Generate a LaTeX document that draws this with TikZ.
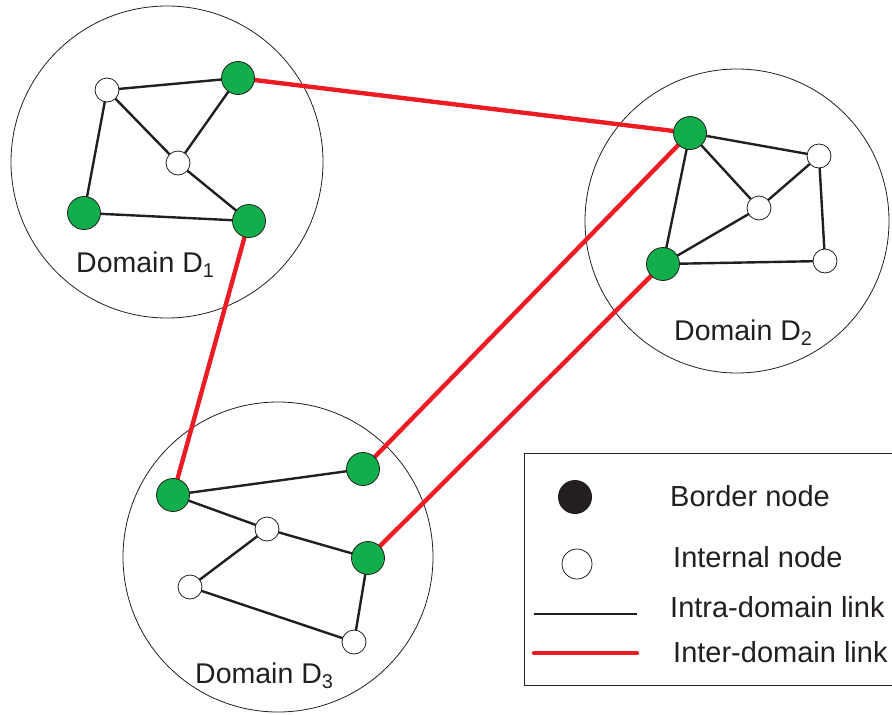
\documentclass[tikz,border=0pt]{standalone}
\usepackage{fontspec}
\setmainfont{Liberation Sans}
\definecolor{bgreen}{RGB}{18,174,75}
\definecolor{lred}{RGB}{237,28,36}
\definecolor{txt}{RGB}{35,31,32}
\begin{document}
\begin{tikzpicture}[x=1pt,y=-1pt,
  domcircle/.style={draw=txt,line width=0.8pt},
  border/.style={circle,draw=txt,line width=0.8pt,fill=bgreen,minimum size=33pt,inner sep=0pt},
  internal/.style={circle,draw=txt,line width=0.8pt,fill=white,minimum size=24pt,inner sep=0pt},
  intra/.style={draw=txt,line width=2.4pt},
  inter/.style={draw=lred,line width=4.4pt},
  lbl/.style={anchor=base west,text=txt,font=\fontsize{28.5}{32}\selectfont,inner sep=0pt},
  leg/.style={anchor=base west,text=txt,font=\fontsize{29}{34}\selectfont,inner sep=0pt}]
\useasboundingbox (0,0) rectangle (892,715);
\clip (0,0) rectangle (892,715);
% domains
\draw[domcircle] (167,162) circle[radius=156];
\draw[domcircle] (737,221) circle[radius=152];
\draw[domcircle] (278,557) circle[radius=155];
% coordinates of nodes
\coordinate (g1) at (238,78);
\coordinate (w1) at (107,90);
\coordinate (w2) at (178,163);
\coordinate (g2) at (84,213);
\coordinate (g3) at (249,221);
\coordinate (g4) at (690,133);
\coordinate (w3) at (819,156);
\coordinate (w4) at (759,208);
\coordinate (g5) at (663,264);
\coordinate (w5) at (825,261);
\coordinate (g6) at (173,495);
\coordinate (g7) at (363,469);
\coordinate (w6) at (267,529);
\coordinate (g8) at (368,558);
\coordinate (w7) at (190,587);
\coordinate (w8) at (354,642);
% intra-domain links
\draw[intra] (w1)--(g1) (w1)--(w2) (w2)--(g1) (w2)--(g3) (w1)--(g2) (g2)--(g3);
\draw[intra] (g4)--(w3) (g4)--(w4) (g4)--(g5) (w3)--(w4) (w3)--(w5) (w4)--(g5) (g5)--(w5);
\draw[intra] (g6)--(g7) (g6)--(w6) (w6)--(g8) (w6)--(w7) (w7)--(w8) (g8)--(w8);
% inter-domain links
\draw[inter] (g1)--(g4) (g3)--(g6) (g4)--(g7) (g5)--(g8);
% nodes
\foreach \n in {g1,g2,g3,g4,g5,g6,g7,g8} \node[border] (N\n) at (\n) {};
\foreach \n in {w1,w2,w3,w4,w5,w6,w7,w8} \node[internal] (N\n) at (\n) {};
% labels
\node[lbl] (l1) at (76,272) {Domain D\textsubscript{1}};
\node[lbl] (l2) at (674,340) {Domain D\textsubscript{2}};
\node[lbl] (l3) at (195,683) {Domain D\textsubscript{3}};
% legend
\draw[draw=txt,line width=0.8pt,fill=white] (524,453) rectangle (910,685);
\node[circle,fill=txt,minimum size=34pt,inner sep=0pt] (lb) at (575,497) {};
\node[circle,draw=txt,line width=0.8pt,fill=white,minimum size=30pt,inner sep=0pt] (li) at (577,564) {};
\coordinate (la1) at (534,614); \coordinate (la2) at (637,614);
\coordinate (le1) at (534,653); \coordinate (le2) at (637,653);
\draw[intra] (la1)--(la2);
\draw[inter,line cap=round] (le1)--(le2);
\node[leg] (t1) at (670,506) {Border node};
\node[leg] (t2) at (673,567) {Internal node};
\node[leg] (t3) at (670,617) {Intra-domain link};
\node[leg] (t4) at (673,662) {Inter-domain link};
\end{tikzpicture}
\end{document}
